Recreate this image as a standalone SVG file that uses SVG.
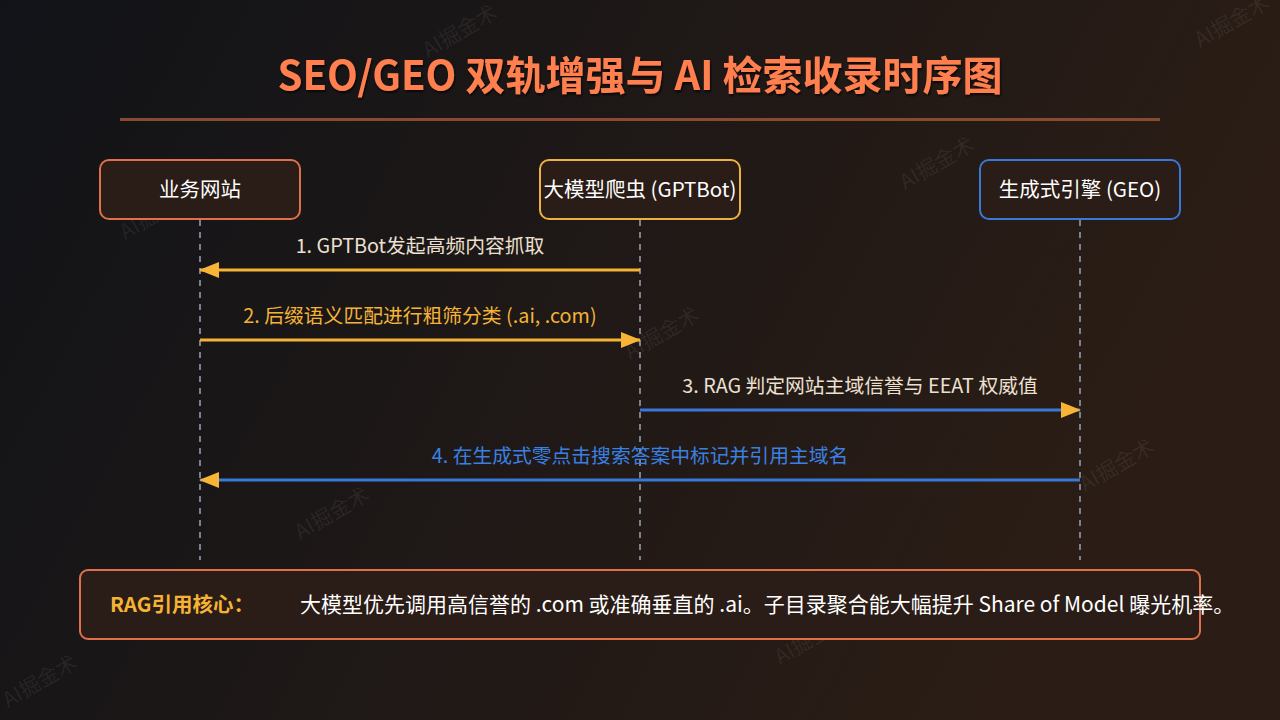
<svg xmlns="http://www.w3.org/2000/svg" width="1280" height="720" viewBox="0 0 1280 720">
  <defs>
    <linearGradient id="bg" x1="0" y1="0" x2="1" y2="0.3">
      <stop offset="0" stop-color="#111318"/>
      <stop offset="1" stop-color="#2b1d15"/>
    </linearGradient>
    <marker id="ah" viewBox="0 0 20 16" refX="19" refY="8" markerWidth="20" markerHeight="16" markerUnits="userSpaceOnUse" orient="auto">
      <path d="M0,0 L20,8 L0,16 Z" fill="#f8b535"/>
    </marker>
    <filter id="sh" x="-5%" y="-20%" width="110%" height="150%">
      <feDropShadow dx="1" dy="2" stdDeviation="1" flood-color="#000" flood-opacity="0.7"/>
    </filter>
  </defs>
  <style>
    text { font-family: "Noto Sans CJK SC", "Noto Sans", "Liberation Sans", sans-serif; }
    .node { stroke-width: 2; fill: #2a1c16; }
    .nlabel { font-size: 20.5px; fill: #ffffff; text-anchor: middle; }
    .life { stroke: #9aa4b8; stroke-width: 1.5; stroke-dasharray: 6 6; }
    .msg { stroke-width: 3; fill: none; marker-end: url(#ah); }
    .mlabel { font-size: 19.8px; text-anchor: middle; }
    .wm { font-size: 21px; fill: #ffffff; fill-opacity: 0.07; }
  </style>
  <rect x="0" y="0" width="1280" height="720" fill="url(#bg)"/>

  <g id="watermarks">
    <text class="wm" transform="translate(125,240) rotate(-30)">AI掘金术</text>
    <text class="wm" transform="translate(300,540) rotate(-30)">AI掘金术</text>
    <text class="wm" transform="translate(630,360) rotate(-30)">AI掘金术</text>
    <text class="wm" transform="translate(905,190) rotate(-30)">AI掘金术</text>
    <text class="wm" transform="translate(1085,492) rotate(-30)">AI掘金术</text>
    <text class="wm" transform="translate(780,665) rotate(-30)">AI掘金术</text>
    <text class="wm" transform="translate(8,708) rotate(-30)">AI掘金术</text>
    <text class="wm" transform="translate(428,58) rotate(-30)">AI掘金术</text>
    <text class="wm" transform="translate(1200,48) rotate(-30)">AI掘金术</text>
  </g>

  <g id="title">
    <text x="640" y="90" font-size="40" font-weight="bold" fill="#ff7f4f" text-anchor="middle" filter="url(#sh)">SEO/GEO 双轨增强与 AI 检索收录时序图</text>
    <rect x="120" y="118" width="1040" height="3" fill="#8a4a30"/>
  </g>

  <g id="lifelines">
    <line class="life" x1="200" y1="220" x2="200" y2="560"/>
    <line class="life" x1="640" y1="220" x2="640" y2="560"/>
    <line class="life" x1="1080" y1="220" x2="1080" y2="560"/>
  </g>

  <g id="node-site">
    <rect class="node" x="100" y="160" width="200" height="59" rx="9" stroke="#e0704a"/>
    <text class="nlabel" x="200" y="197">业务网站</text>
  </g>
  <g id="node-bot">
    <rect class="node" x="540" y="160" width="200" height="59" rx="9" stroke="#f0b040"/>
    <text class="nlabel" x="640" y="197">大模型爬虫 (GPTBot)</text>
  </g>
  <g id="node-geo">
    <rect class="node" x="980" y="160" width="200" height="59" rx="9" stroke="#3a78d8"/>
    <text class="nlabel" x="1080" y="197">生成式引擎 (GEO)</text>
  </g>

  <g id="connectors">
    <line class="msg" x1="640" y1="270" x2="200" y2="270" stroke="#f5b335"/>
    <text class="mlabel" x="420" y="253" fill="#ece0d2">1. GPTBot发起高频内容抓取</text>
    <line class="msg" x1="200" y1="340" x2="640" y2="340" stroke="#f5b335"/>
    <text class="mlabel" x="420" y="323" fill="#f5b335">2. 后缀语义匹配进行粗筛分类 (.ai, .com)</text>
    <line class="msg" x1="640" y1="410" x2="1080" y2="410" stroke="#3a78d8"/>
    <text class="mlabel" x="860" y="393" fill="#ece0d2">3. RAG 判定网站主域信誉与 EEAT 权威值</text>
    <line class="msg" x1="1080" y1="480" x2="200" y2="480" stroke="#3a78d8"/>
    <text class="mlabel" x="640" y="463" fill="#3a80e0">4. 在生成式零点击搜索答案中标记并引用主域名</text>
  </g>

  <g id="note">
    <rect x="80" y="570" width="1120" height="69" rx="8" fill="#2a1c16" stroke="#e0704a" stroke-width="2"/>
    <text x="110" y="612" font-size="20.5" font-weight="bold" fill="#f5b335">RAG引用核心：</text>
    <text x="300" y="612" font-size="21" fill="#ffffff">大模型优先调用高信誉的 .com 或准确垂直的 .ai。子目录聚合能大幅提升 Share of Model 曝光机率。</text>
  </g>
</svg>
